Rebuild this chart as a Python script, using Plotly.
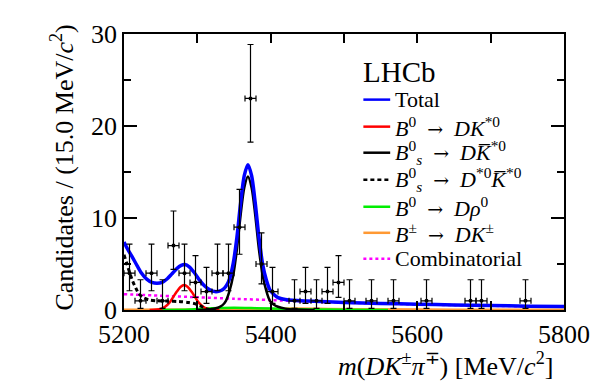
import numpy as np
import plotly.graph_objects as go

# %% data: candidates per 15 MeV bin, 5200-5800
bin_centres = np.arange(5207.5, 5800, 15.0)
counts = [4, 1, 4, 1, 7, 4, 3, 2, 4, 4,
          9, 23, 5, 2, 0, 1, 2, 1, 2, 3,
          1, 0, 1, 0, 1, 0, 0, 1, 0, 0,
          0, 1, 1, 0, 0, 0, 1, 0, 0, 0]

# fit components
total_x = [5200, 5205, 5211, 5218, 5224, 5231, 5238, 5245, 5252, 5259, 5265, 5272, 5278,
           5283, 5289, 5296, 5303, 5310, 5317, 5324, 5330, 5336, 5340, 5344, 5349, 5354,
           5359, 5364, 5369, 5374, 5379, 5384, 5389, 5394, 5399, 5404, 5410, 5420, 5430,
           5450, 5500, 5550, 5600, 5650, 5700, 5750, 5800]
total_y = [7.4, 6.6, 5.8, 4.8, 4.0, 3.35, 3.0, 2.9, 3.0, 3.4, 3.9, 4.5, 4.85,
           4.95, 4.7, 4.05, 3.25, 2.6, 2.2, 2.0, 2.05, 2.3, 2.7, 3.4, 5.1, 7.9,
           11.6, 14.6, 15.8, 14.6, 11.6, 7.9, 5.0, 3.3, 2.2, 1.7, 1.35, 1.15, 1.05,
           0.97, 0.82, 0.72, 0.63, 0.55, 0.48, 0.42, 0.37]

red_x = [5235, 5250, 5256, 5262, 5267, 5272, 5277, 5282, 5287, 5292, 5297, 5302, 5308, 5314, 5330]
red_y = [0.0, 0.12, 0.35, 0.8, 1.4, 2.0, 2.5, 2.72, 2.5, 2.0, 1.4, 0.8, 0.35, 0.12, 0.0]

bs_x = [5300, 5318, 5328, 5334, 5339, 5344, 5349, 5354, 5359, 5364, 5369, 5374, 5379,
        5384, 5389, 5394, 5399, 5404, 5410, 5420, 5435, 5460]
bs_y = [0.0, 0.08, 0.25, 0.5, 1.0, 2.1, 3.8, 6.6, 10.3, 13.3, 14.5, 13.3, 10.3,
        6.6, 3.8, 2.1, 1.0, 0.6, 0.35, 0.15, 0.05, 0.0]

bsstar_x = [5200, 5204, 5208, 5212, 5216, 5220, 5226, 5234, 5245, 5260, 5275, 5288, 5298,
            5305, 5310, 5316, 5325]
bsstar_y = [6.0, 5.0, 4.0, 3.1, 2.4, 1.8, 1.35, 1.1, 1.0, 0.97, 0.92, 0.82, 0.65,
            0.42, 0.2, 0.05, 0.0]

rho_x = [5250, 5290, 5320, 5350, 5380, 5420, 5460, 5500, 5560]
rho_y = [0.0, 0.05, 0.2, 0.25, 0.2, 0.12, 0.06, 0.03, 0.0]

dk_x = [5200, 5350, 5400, 5430, 5480, 5550, 5650, 5800]
dk_y = [0.03, 0.05, 0.1, 0.15, 0.12, 0.07, 0.04, 0.02]

comb_x = [5200, 5250, 5300, 5350, 5400, 5450, 5500, 5550, 5600, 5650, 5700, 5750, 5800]
comb_y = [1.72, 1.55, 1.38, 1.22, 1.08, 0.93, 0.8, 0.7, 0.61, 0.53, 0.46, 0.4, 0.35]

ARROW = "\u2002<span style='font-family:DejaVu Serif;font-size:19px'>→</span>\u2002"
legend_labels = [
    "Total",
    "<i>B</i><sup>0</sup>" + ARROW + "<i>DK</i><sup>*0</sup>",
    "<i>B</i><sup>0</sup><sub><i>s</i></sub>" + ARROW + "<i>DK̅</i><sup>*0</sup>",
    "<i>B</i><sup>0</sup><sub><i>s</i></sub>" + ARROW + "<i>D</i><sup>*0</sup><i>K̅</i><sup>*0</sup>",
    "<i>B</i><sup>0</sup>" + ARROW + "<i>Dρ</i><sup>0</sup>",
    "<i>B</i><sup>±</sup>" + ARROW + "<i>DK</i><sup>±</sup>",
    "Combinatorial",
]

# %% Poisson (Garwood) errors, zero bins are not drawn
n = np.array(counts, dtype=float)
keep = n > 0
nk = n[keep]
upper = (nk + 1) * (1 - 1 / (9 * (nk + 1)) + 1 / (3 * np.sqrt(nk + 1))) ** 3 - nk
lower = nk - nk * (1 - 1 / (9 * nk) - 1 / (3 * np.sqrt(nk))) ** 3

FONT = "Liberation Serif"
DASHED = "4px,3px"
fig = go.Figure()

def curve(x, y, color, width, dash="solid"):
    fig.add_trace(go.Scatter(x=x, y=y, mode="lines", line=dict(color=color, width=width, dash=dash,
                                                             shape="spline", smoothing=0.8),
                             showlegend=False, hoverinfo="skip"))

curve(dk_x, dk_y, "#ff9933", 2.5)
curve(rho_x, rho_y, "#00ee00", 2.5)
curve(comb_x, comb_y, "#ff00ff", 2.5, "dot")
curve(red_x, red_y, "#ff0000", 2.5)
curve(bsstar_x, bsstar_y, "black", 3, DASHED)
curve(bs_x, bs_y, "black", 2.5)
curve(total_x, total_y, "#0000ff", 3.5)

fig.add_trace(go.Scatter(
    x=bin_centres[keep], y=nk, mode="markers",
    marker=dict(color="black", size=4),
    error_x=dict(type="constant", value=7.5, width=3, color="black", thickness=1.2),
    error_y=dict(type="data", array=upper, arrayminus=lower, width=3, color="black", thickness=1.2),
    showlegend=False, hoverinfo="skip"))

# %% legend drawn by hand, ROOT style (pixel positions of the reference)
def px(xp):
    return (xp - 124) / 443

def py(yp):
    return (310 - yp) / 286

fig.add_annotation(x=px(363), y=py(63), xref="paper", yref="paper", text="LHCb", showarrow=False,
                   xanchor="left", yanchor="middle", font=dict(family=FONT, size=29, color="black"))

styles = [("#0000ff", "solid", 2.5), ("#ff0000", "solid", 2.5), ("black", "solid", 2.5),
          ("black", DASHED, 2.5), ("#00ee00", "solid", 2.5), ("#ff9933", "solid", 2.5),
          ("#ff00ff", "dot", 2.5)]
rows = [92, 120, 147, 175, 203, 230, 257]
for label, (col, dash, w), yy in zip(legend_labels, styles, rows):
    fig.add_shape(type="line", xref="paper", yref="paper", x0=px(365), x1=px(392), y0=py(yy), y1=py(yy),
                  line=dict(color=col, width=w, dash=dash))
    fig.add_annotation(x=px(395), y=py(yy), xref="paper", yref="paper", text=label, showarrow=False,
                       xanchor="left", yanchor="middle", font=dict(family=FONT, size=22, color="black"))

# axis titles
fig.add_annotation(x=px(558), y=py(366), xref="paper", yref="paper",
                   text="<i>m</i>(<i>DK</i><sup>±</sup><i>π</i><sup>∓</sup>) [MeV/<i>c</i><sup>2</sup>]",
                   showarrow=False, xanchor="right", yanchor="middle",
                   font=dict(family=FONT, size=26, color="black"))
fig.add_annotation(x=px(62), y=py(162), xref="paper", yref="paper", textangle=-90,
                   text="Candidates / (15.0 MeV/<i>c</i><sup>2</sup>)",
                   showarrow=False, xanchor="center", yanchor="middle",
                   font=dict(family=FONT, size=26, color="black"))

fig.update_xaxes(range=[5200, 5800], tickvals=[5200, 5400, 5600, 5800], ticks="inside", ticklen=9,
                 tickwidth=1.5, tickcolor="black", showline=True, linecolor="black", linewidth=1.5,
                 mirror="allticks", showgrid=False, zeroline=False,
                 minor=dict(tickvals=[5300, 5500, 5700], ticks="inside", ticklen=9, tickcolor="black",
                            tickwidth=1.5),
                 tickfont=dict(family=FONT, size=26, color="black"))
fig.update_yaxes(range=[0, 30], tickvals=[0, 10, 20, 30], ticks="inside", ticklen=13,
                 tickwidth=1.5, tickcolor="black", showline=True, linecolor="black", linewidth=1.5,
                 mirror="allticks", showgrid=False, zeroline=False,
                 minor=dict(tickvals=[5, 15, 25], ticks="inside", ticklen=7, tickcolor="black",
                            tickwidth=1.5),
                 tickfont=dict(family=FONT, size=26, color="black"))

# page body has an 8px margin, so the figure is 8px smaller on each side
fig.update_layout(width=594, height=383, margin=dict(l=116, r=35, t=16, b=81),
                  plot_bgcolor="white", paper_bgcolor="white", showlegend=False,
                  font=dict(family=FONT, color="black"))

fig.write_html("out.html")
